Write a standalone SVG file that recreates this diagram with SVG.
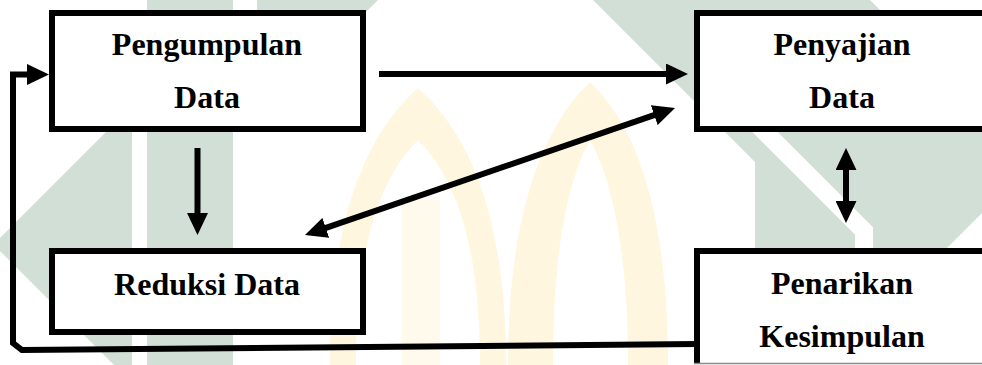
<svg xmlns="http://www.w3.org/2000/svg" width="982" height="365" viewBox="0 0 982 365">
  <defs>
    <style>
      .box { fill: #ffffff; stroke: #000000; stroke-width: 6; stroke-linejoin: miter; }
      .label { font-family: "Liberation Serif", "Times New Roman", serif; font-weight: bold; font-size: 32px; fill: #000000; text-anchor: middle; }
      .link { fill: none; stroke: #000000; stroke-width: 6; stroke-linejoin: miter; }
      .wm-green { fill: #d2dfd6; }
      .wm-yellow { fill: #fef6de; }
      .wm-yellow-light { fill: #fffaec; }
    </style>
    <marker id="head" markerWidth="22" markerHeight="21" refX="6" refY="10.5" orient="auto-start-reverse" markerUnits="userSpaceOnUse" viewBox="0 0 22 21">
      <path d="M0,0 L22,10.5 L0,21 z" fill="#000000"/>
    </marker>
  </defs>

  <rect width="982" height="365" fill="#ffffff"/>

  <!-- background emblem -->
  <g id="emblem">
    <polygon class="wm-green" points="0,238 132,106 132,365 114,365 0,251"/>
    <rect class="wm-green" x="147" y="0" width="86" height="365"/>
    <polygon class="wm-green" points="257,0 378,0 257,121"/>
    <polygon class="wm-green" points="593,0 870,0 982,112 982,213 947,248 755,248 755,162"/>
    <polyline points="700,67 864,231 864,250" fill="none" stroke="#ffffff" stroke-width="18"/>
    <path class="wm-yellow" fill-rule="evenodd" d="M330,365 C330,230 360,140 418,88 C476,140 506,230 506,365 Z M356,365 C356,250 378,180 418,140 C458,180 480,250 480,365 Z"/>
    <rect class="wm-yellow-light" x="402" y="200" width="38" height="165"/>
    <path class="wm-yellow" fill-rule="evenodd" d="M508,365 C508,220 540,130 590,82 C640,130 668,220 668,365 Z M553,365 C553,250 568,180 590,140 C612,180 628,250 628,365 Z"/>
  </g>

  <!-- connectors -->
  <g id="connectors">
    <path class="link" d="M379,74 H672" marker-end="url(#head)"/>
    <path class="link" d="M197.5,148 V219" marker-end="url(#head)"/>
    <path class="link" d="M320.1,229.8 L659.9,113.2" marker-start="url(#head)" marker-end="url(#head)"/>
    <path class="link" d="M846,164 V207" marker-start="url(#head)" marker-end="url(#head)"/>
    <path class="link" d="M697,344 L22,350 L13,343 V74.5 H33" marker-end="url(#head)"/>
  </g>

  <!-- nodes -->
  <g id="pengumpulan">
    <rect class="box" x="52" y="13" width="311" height="116"/>
    <text class="label" x="207" y="55">Pengumpulan</text>
    <text class="label" x="207" y="108">Data</text>
  </g>
  <g id="penyajian">
    <rect class="box" x="697" y="13" width="300" height="116"/>
    <text class="label" x="842" y="55">Penyajian</text>
    <text class="label" x="842" y="108">Data</text>
  </g>
  <g id="reduksi">
    <rect class="box" x="52" y="251" width="311" height="81"/>
    <text class="label" x="207" y="295">Reduksi Data</text>
  </g>
  <g id="penarikan">
    <rect x="697" y="251" width="290" height="112" fill="#ffffff"/>
    <path d="M697,363 V251 H990" fill="none" stroke="#000000" stroke-width="6"/>
    <line x1="694" y1="363.5" x2="982" y2="363.5" stroke="#8a8a8a" stroke-width="1.5"/>
    <text class="label" x="842" y="294">Penarikan</text>
    <text class="label" x="842" y="347">Kesimpulan</text>
  </g>
</svg>
